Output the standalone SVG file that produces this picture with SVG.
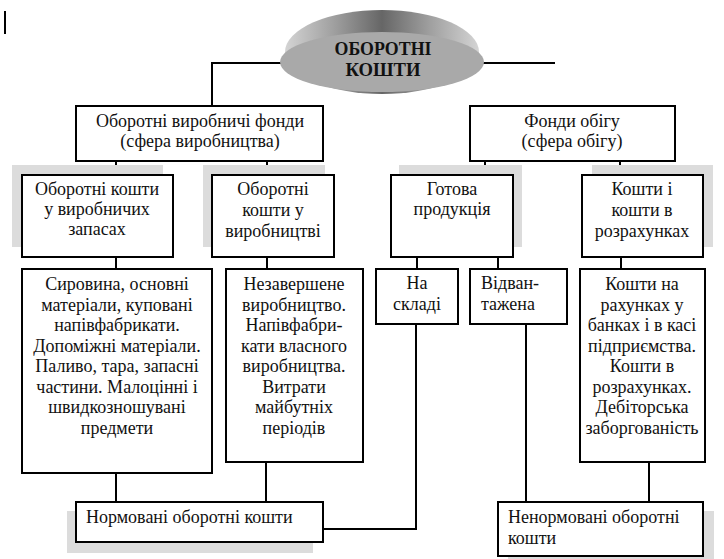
<svg xmlns="http://www.w3.org/2000/svg" width="724" height="559" viewBox="0 0 724 559">
<defs>
<linearGradient id="dome" x1="0" y1="0" x2="1" y2="0">
<stop offset="0" stop-color="#d4d4d4"/>
<stop offset="0.25" stop-color="#a0a0a0"/>
<stop offset="0.5" stop-color="#666666"/>
<stop offset="0.75" stop-color="#a0a0a0"/>
<stop offset="1" stop-color="#d4d4d4"/>
</linearGradient>
</defs>
<style>
.box{fill:#fff;stroke:#000;stroke-width:2}
.sh{fill:#dcdcdc;stroke:none}
.ln{fill:none;stroke:#000;stroke-width:2}
text{font-family:"Liberation Serif","Times New Roman",serif;font-size:18px;fill:#111}
.c{text-anchor:middle}
.t{font-weight:bold;font-size:19px;text-anchor:middle;fill:#111}
</style>
<rect width="724" height="559" fill="#fff"/>
<line x1="5" y1="11" x2="5" y2="34" stroke="#000" stroke-width="2"/>

<g id="connectors">
<polyline class="ln" points="281,63 212,63 212,106"/>
<line class="ln" x1="483" y1="63" x2="555" y2="63"/>
<line class="ln" x1="116" y1="161" x2="116" y2="175"/>
<line class="ln" x1="267" y1="161" x2="267" y2="175"/>
<line class="ln" x1="485" y1="161" x2="485" y2="175"/>
<line class="ln" x1="620" y1="161" x2="620" y2="175"/>
<line class="ln" x1="116" y1="257" x2="116" y2="269"/>
<line class="ln" x1="267" y1="257" x2="267" y2="269"/>
<line class="ln" x1="417" y1="257" x2="417" y2="269"/>
<line class="ln" x1="498" y1="257" x2="498" y2="269"/>
<line class="ln" x1="621" y1="257" x2="621" y2="269"/>
<line class="ln" x1="116" y1="473" x2="116" y2="502"/>
<line class="ln" x1="266" y1="462" x2="266" y2="502"/>
<polyline class="ln" points="323,529 416,529 416,324"/>
<line class="ln" x1="526" y1="324" x2="526" y2="502"/>
<line class="ln" x1="649" y1="462" x2="649" y2="502"/>
</g>

<g id="root">
<ellipse cx="382" cy="52" rx="97" ry="42" fill="url(#dome)"/>
<ellipse cx="382" cy="62" rx="102" ry="30" fill="#a9a9a9"/>
<text class="t" x="383" y="55" textLength="97" lengthAdjust="spacingAndGlyphs">ОБОРОТНІ</text>
<text class="t" x="383" y="76" textLength="75" lengthAdjust="spacingAndGlyphs">КОШТИ</text>
</g>

<g id="vyrobnychi-fondy">
<rect class="box" x="76" y="106" width="247" height="55"/>
<text class="c" x="200" y="127">Оборотні виробничі фонди</text>
<text class="c" x="200" y="147">(сфера виробництва)</text>
</g>

<g id="fondy-obigu">
<rect class="box" x="470" y="106" width="205" height="55"/>
<text class="c" x="572" y="127">Фонди обігу</text>
<text class="c" x="572" y="147">(сфера обігу)</text>
</g>

<g id="zapasy">
<rect class="sh" x="12" y="165" width="151" height="82"/>
<rect class="box" x="22" y="175" width="151" height="82"/>
<text class="c" x="97" y="195">Оборотні кошти</text>
<text class="c" x="97" y="215">у виробничих</text>
<text class="c" x="97" y="235">запасах</text>
</g>

<g id="vyrobnytstvo">
<rect class="sh" x="203" y="165" width="122" height="82"/>
<rect class="box" x="212" y="175" width="122" height="82"/>
<text class="c" x="273" y="195">Оборотні</text>
<text class="c" x="273" y="216">кошти у</text>
<text class="c" x="273" y="237">виробництві</text>
</g>

<g id="gotova-produktsiia">
<rect class="sh" x="399" y="165" width="123" height="82"/>
<rect class="box" x="391" y="175" width="122" height="82"/>
<text class="c" x="452" y="195">Готова</text>
<text class="c" x="452" y="215">продукція</text>
</g>

<g id="koshty-rozrakhunky">
<rect class="sh" x="592" y="165" width="121" height="82"/>
<rect class="box" x="582" y="175" width="121" height="82"/>
<text class="c" x="642" y="195">Кошти і</text>
<text class="c" x="642" y="216">кошти в</text>
<text class="c" x="642" y="237">розрахунках</text>
</g>

<g id="syrovyna">
<rect class="box" x="22" y="269" width="190" height="204"/>
<text class="c" x="117" y="290">Сировина, основні</text>
<text class="c" x="117" y="310.5">матеріали, куповані</text>
<text class="c" x="117" y="331">напівфабрикати.</text>
<text class="c" x="117" y="351.5">Допоміжні матеріали.</text>
<text class="c" x="117" y="372">Паливо, тара, запасні</text>
<text class="c" x="117" y="392.5">частини. Малоцінні і</text>
<text class="c" x="117" y="413">швидкозношувані</text>
<text class="c" x="117" y="433.5">предмети</text>
</g>

<g id="nezavershene">
<rect class="box" x="226" y="269" width="137" height="193"/>
<text class="c" x="294" y="290">Незавершене</text>
<text class="c" x="294" y="310.5">виробництво.</text>
<text class="c" x="294" y="331">Напівфабри-</text>
<text class="c" x="294" y="351.5">кати власного</text>
<text class="c" x="294" y="372">виробництва.</text>
<text class="c" x="294" y="392.5">Витрати</text>
<text class="c" x="294" y="413">майбутніх</text>
<text class="c" x="294" y="433.5">періодів</text>
</g>

<g id="na-skladi">
<rect class="box" x="376" y="269" width="82" height="55"/>
<text class="c" x="417" y="289">На</text>
<text class="c" x="417" y="309.5">складі</text>
</g>

<g id="vidvantazhena">
<rect class="box" x="470" y="269" width="97" height="55"/>
<text x="481" y="289">Відван-</text>
<text x="481" y="309.5">тажена</text>
</g>

<g id="koshty-na-rakhunkakh">
<rect class="box" x="580" y="269" width="125" height="193"/>
<text class="c" x="642" y="290">Кошти на</text>
<text class="c" x="642" y="310.5">рахунках у</text>
<text class="c" x="642" y="331">банках і в касі</text>
<text class="c" x="642" y="351.5">підприємства.</text>
<text class="c" x="642" y="372">Кошти в</text>
<text class="c" x="642" y="392.5">розрахунках.</text>
<text class="c" x="642" y="413">Дебіторська</text>
<text class="c" x="642" y="433.5">заборгованість</text>
</g>

<g id="normovani">
<rect class="sh" x="67" y="511" width="246" height="42"/>
<rect class="box" x="76" y="502" width="247" height="40"/>
<text x="86" y="523">Нормовані оборотні кошти</text>
</g>

<g id="nenormovani">
<rect class="sh" x="508" y="511" width="206" height="54"/>
<rect class="box" x="498" y="502" width="205" height="54"/>
<text x="508" y="523">Ненормовані оборотні</text>
<text x="508" y="544">кошти</text>
</g>
</svg>
